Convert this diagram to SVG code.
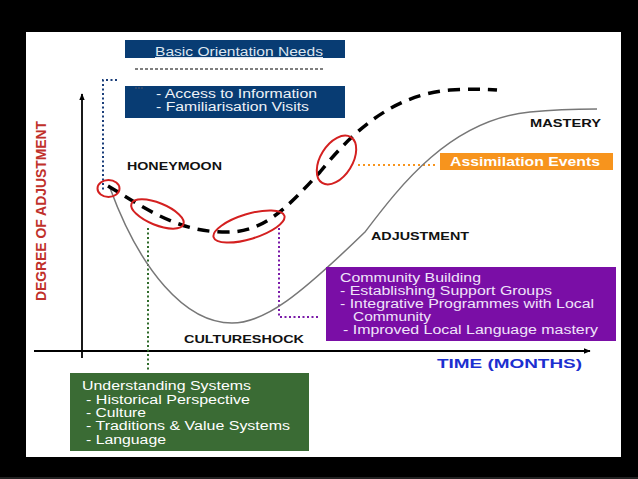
<svg xmlns="http://www.w3.org/2000/svg" width="638" height="479" viewBox="0 0 638 479">
<defs>
<style>
.t{font-family:"Liberation Sans",Arial,sans-serif;font-size:12px}
.b{font-weight:bold}
.w{fill:#ffffff}
.lbl{font-family:"Liberation Sans",Arial,sans-serif;font-size:11px;font-weight:bold;fill:#111}
.ell{fill:none;stroke:#d42020;stroke-width:2}
</style>
<marker id="ah" viewBox="0 0 10 10" refX="9" refY="5" markerWidth="7" markerHeight="7" orient="auto-start-reverse" markerUnits="userSpaceOnUse">
<path d="M0,1 L10,5 L0,9 z" fill="#000"/>
</marker>
</defs>
<rect x="0" y="0" width="638" height="479" fill="#000"/>
<rect x="26" y="32" width="595" height="425" fill="#fff"/>
<line x1="0" y1="478" x2="638" y2="478" stroke="#444" stroke-width="1"/>

<g id="connectors">
<line x1="82" y1="358" x2="82" y2="94" stroke="#000" stroke-width="1.8" marker-end="url(#ah)"/>
<line x1="34" y1="351" x2="590" y2="351" stroke="#000" stroke-width="1.8" marker-end="url(#ah)"/>
<path d="M117,80 L103,80 L103,192" fill="none" stroke="#1b3e7a" stroke-width="2" stroke-dasharray="2,2.5"/>
<line x1="135" y1="69" x2="325" y2="69" stroke="#000" stroke-width="1.2" stroke-dasharray="3,2"/>
<line x1="148" y1="228" x2="148" y2="372" stroke="#2f6b2a" stroke-width="2" stroke-dasharray="2,2.5"/>
<path d="M279,228 L279,317 L320,317" fill="none" stroke="#7a1aa8" stroke-width="2" stroke-dasharray="2,2.5"/>
<line x1="358" y1="165" x2="436" y2="165" stroke="#f7941d" stroke-width="2" stroke-dasharray="2,3"/>
<path d="M110,188 C140,270 185,323 232,323 C265,323 300,295 365,232 C400,186 450,120 530,112 C560,109 585,109 597,109" fill="none" stroke="#777" stroke-width="1.5"/>
<path d="M108,186 C140,205 175,231 222,232 C262,234 285,210 320,172 C350,135 390,95 450,90 C470,89 485,89 497,90" fill="none" stroke="#000" stroke-width="3.5" stroke-dasharray="12,8"/>
</g>

<g id="ellipses">
<ellipse class="ell" cx="108.5" cy="188.5" rx="11" ry="8.5"/>
<ellipse class="ell" cx="157.5" cy="214" rx="28" ry="11" transform="rotate(22 157.5 214)"/>
<ellipse class="ell" cx="249" cy="226.5" rx="37" ry="12.5" transform="rotate(-17 249 226.5)"/>
<ellipse class="ell" cx="336.5" cy="160" rx="27" ry="16" transform="rotate(-58 336.5 160)"/>
</g>

<g id="basic-orientation">
<rect x="125" y="40" width="220" height="18" fill="#083c73"/>
<text class="t" x="155" y="56" fill="#dde6f0" text-decoration="underline" textLength="168" lengthAdjust="spacingAndGlyphs">Basic Orientation Needs</text>
<rect x="125" y="86" width="220" height="32" fill="#083c73"/>
<line x1="135" y1="88" x2="144" y2="88" stroke="#556" stroke-width="1" stroke-dasharray="2,1"/>
<text class="t" x="156" y="98" fill="#eef2f7" textLength="161" lengthAdjust="spacingAndGlyphs">- Access to Information</text>
<text class="t" x="156" y="111" fill="#eef2f7" textLength="153" lengthAdjust="spacingAndGlyphs">- Familiarisation Visits</text>
</g>

<g id="y-label">
<text transform="translate(46,211) rotate(-90)" text-anchor="middle" font-family="Liberation Sans,Arial,sans-serif" font-size="14" font-weight="bold" fill="#c0302a" textLength="180" lengthAdjust="spacingAndGlyphs">DEGREE OF ADJUSTMENT</text>
</g>

<g id="stage-labels">
<text class="lbl" x="127" y="170" textLength="95" lengthAdjust="spacingAndGlyphs">HONEYMOON</text>
<text class="lbl" x="530" y="127" textLength="71" lengthAdjust="spacingAndGlyphs">MASTERY</text>
<text class="lbl" x="371" y="240" textLength="98" lengthAdjust="spacingAndGlyphs">ADJUSTMENT</text>
<text class="lbl" x="184" y="343" textLength="120" lengthAdjust="spacingAndGlyphs">CULTURESHOCK</text>
</g>

<g id="time-label">
<text x="437" y="368" font-family="Liberation Sans,Arial,sans-serif" font-size="12.5" font-weight="bold" fill="#1c2fd0" textLength="145" lengthAdjust="spacingAndGlyphs">TIME (MONTHS)</text>
</g>

<g id="assimilation">
<rect x="440" y="153" width="173" height="17" fill="#f7941d"/>
<text class="t b w" x="450" y="166" textLength="150" lengthAdjust="spacingAndGlyphs">Assimilation Events</text>
</g>

<g id="community">
<rect x="326" y="267" width="290" height="74" fill="#7a0ea6"/>
<text class="t" x="340" y="282" fill="#f0e4fa" textLength="141" lengthAdjust="spacingAndGlyphs">Community Building</text>
<text class="t" x="340" y="295" fill="#f0e4fa" textLength="212" lengthAdjust="spacingAndGlyphs">- Establishing Support Groups</text>
<text class="t" x="340" y="308" fill="#f0e4fa" textLength="254" lengthAdjust="spacingAndGlyphs">- Integrative Programmes with Local</text>
<text class="t" x="353" y="321" fill="#f0e4fa" textLength="78" lengthAdjust="spacingAndGlyphs">Community</text>
<text class="t" x="343" y="334" fill="#f0e4fa" textLength="255" lengthAdjust="spacingAndGlyphs">- Improved Local Language mastery</text>
</g>

<g id="understanding">
<rect x="70" y="373" width="239" height="78" fill="#3a6b34"/>
<text class="t w" x="82" y="390" textLength="169" lengthAdjust="spacingAndGlyphs">Understanding Systems</text>
<text class="t w" x="86" y="404" textLength="164" lengthAdjust="spacingAndGlyphs">- Historical Perspective</text>
<text class="t w" x="86" y="417" textLength="60" lengthAdjust="spacingAndGlyphs">- Culture</text>
<text class="t w" x="86" y="430" textLength="204" lengthAdjust="spacingAndGlyphs">- Traditions &amp; Value Systems</text>
<text class="t w" x="86" y="444" textLength="80" lengthAdjust="spacingAndGlyphs">- Language</text>
</g>
</svg>
